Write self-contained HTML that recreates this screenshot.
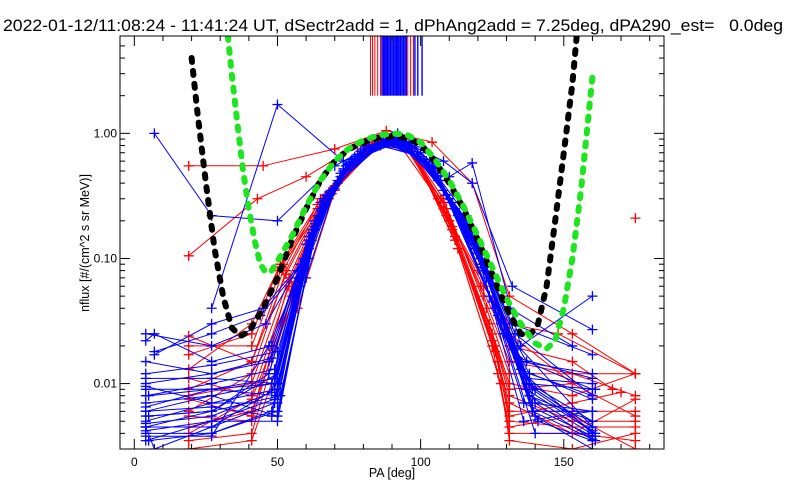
<!DOCTYPE html>
<html><head><meta charset="utf-8"><style>
html,body{margin:0;padding:0;background:#fff;width:800px;height:500px;overflow:hidden}
svg{display:block;font-family:"Liberation Sans","DejaVu Sans",sans-serif}
</style></head><body>
<svg id="chart" width="800" height="500" viewBox="0 0 800 500">
<text x="3" y="31" font-size="16.5" fill="#000" textLength="780" lengthAdjust="spacingAndGlyphs" xml:space="preserve" style="white-space:pre">2022-01-12/11:08:24 - 11:41:24 UT, dSectr2add = 1, dPhAng2add = 7.25deg, dPA290_est=   0.0deg</text>
<g id="plot"></g>
<g id="axes"></g>
<text x="392" y="477" font-size="12.5" text-anchor="middle">PA [deg]</text>
<text transform="translate(89,243) rotate(-90)" font-size="12.5" text-anchor="middle">nflux [#/(cm^2 s sr MeV)]</text>
</svg>
<script>
const xTicks=[0,50,100,150];
const yTicks=[0.01,0.1,1];
const yTickLabels=["0.01","0.10","1.00"];
const blueLines=[
[[4,0.0045],[27,0.0045],[49,0.009],[62,0.15],[74,0.55],[88,0.85],[102,0.6],[118,0.15],[136,0.012],[160,0.004]],
[[4,0.009],[27,0.009],[50,0.008],[63,0.17],[75,0.55],[90,0.9],[104,0.55],[120,0.12],[138,0.01],[160,0.005]],
[[4,0.006],[27,0.0065],[48,0.0055],[61,0.12],[73,0.5],[89,0.88],[103,0.55],[119,0.13],[137,0.009],[161,0.004]],
[[4,0.011],[27,0.011],[50,0.01],[64,0.2],[76,0.6],[91,0.9],[105,0.5],[121,0.1],[139,0.006],[160,0.006]],
[[4,0.0038],[27,0.0038],[47,0.02],[60,0.1],[72,0.45],[87,0.85],[101,0.62],[117,0.18],[134,0.02],[160,0.0045]],
[[4,0.025],[27,0.02],[46,0.03],[59,0.1],[71,0.4],[86,0.8],[100,0.65],[116,0.2],[133,0.025],[160,0.008]],
[[5,0.0055],[27,0.006],[50,0.012],[64,0.22],[77,0.65],[92,0.92],[106,0.45],[122,0.08],[140,0.007],[161,0.0035]],
[[7,0.017],[27,0.03],[45,0.04],[58,0.09],[70,0.38],[85,0.8],[99,0.68],[115,0.22],[132,0.03],[160,0.017]],
[[4,0.022],[7,0.025],[27,0.015],[48,0.02],[61,0.14],[73,0.5],[88,0.9],[102,0.58],[118,0.15],[135,0.015],[160,0.012]],
[[7,1.0],[27,0.22],[50,0.2],[70,0.55],[90,0.95],[108,0.6],[118,0.4],[132,0.06],[160,0.027]],
[[27,0.04],[50,1.7],[73,0.6],[92,1.0],[110,0.45],[118,0.58],[135,0.02],[160,0.05]],
[[4,0.0042],[27,0.005],[49,0.0075],[62,0.16],[74,0.55],[90,0.88],[104,0.52],[120,0.11],[138,0.008],[161,0.0038]],
[[5,0.0035],[27,0.004],[48,0.006],[63,0.18],[76,0.6],[92,0.85],[106,0.42],[121,0.09],[136,0.005],[160,0.006]],
[[4,0.01],[27,0.012],[47,0.015],[61,0.15],[73,0.52],[89,0.9],[103,0.56],[119,0.14],[137,0.01],[161,0.009]],
[[4,0.0048],[27,0.0055],[48,0.0085],[63,0.2],[75,0.58],[91,0.92],[105,0.5],[120,0.12],[139,0.009],[160,0.0042]],
[[5,0.008],[27,0.009],[49,0.011],[62,0.17],[74,0.55],[89,0.87],[103,0.55],[118,0.14],[134,0.016],[160,0.011]],
[[4,0.006],[27,0.008],[50,0.0055],[64,0.2],[76,0.6],[91,0.9],[104,0.5],[119,0.12],[136,0.007],[160,0.0038]],
[[7,0.018],[27,0.025],[44,0.035],[57,0.08],[69,0.35],[85,0.82],[100,0.7],[116,0.22],[131,0.04],[153,0.02]],
[[4,0.0095],[27,0.007],[50,0.009],[65,0.25],[78,0.68],[93,0.9],[107,0.42],[123,0.07],[140,0.0055],[160,0.003]],
[[4,0.0055],[27,0.006],[47,0.012],[60,0.13],[72,0.48],[88,0.88],[102,0.6],[118,0.16],[135,0.013],[160,0.0075]],
[[4,0.0045],[7,0.003],[27,0.0045],[49,0.007],[62,0.14],[75,0.57],[90,0.9],[104,0.53],[120,0.13],[137,0.01],[160,0.0045]],
[[4,0.015],[27,0.012],[48,0.016],[62,0.16],[75,0.56],[90,0.86],[104,0.54],[119,0.13],[137,0.011],[160,0.01]],
[[4,0.0065],[27,0.009],[49,0.01],[63,0.19],[76,0.62],[92,0.88],[105,0.48],[121,0.1],[138,0.008],[160,0.005]],
[[4,0.004],[27,0.004],[50,0.006],[65,0.24],[77,0.63],[92,0.9],[106,0.46],[122,0.085],[139,0.006],[160,0.0036]],
[[4,0.005],[27,0.007],[50,0.007],[58,0.06],[66,0.3],[80,0.75],[95,0.85],[110,0.3],[126,0.04],[140,0.004],[160,0.004]],
[[4,0.008],[27,0.01],[49,0.013],[57,0.07],[67,0.32],[81,0.78],[94,0.86],[109,0.32],[125,0.045],[139,0.007],[160,0.006]],
[[4,0.012],[27,0.014],[50,0.018],[59,0.09],[68,0.34],[82,0.8],[96,0.84],[111,0.28],[127,0.035],[138,0.012],[160,0.008]],
[[4,0.0045],[27,0.006],[51,0.008],[60,0.07],[70,0.36],[84,0.82],[97,0.8],[112,0.25],[128,0.03],[141,0.005],[160,0.0035]],
[[4,0.007],[27,0.008],[48,0.01],[56,0.05],[65,0.28],[79,0.72],[93,0.88],[108,0.35],[124,0.05],[137,0.015],[160,0.009]],
[[4,0.0035],[27,0.005],[50,0.005],[61,0.1],[71,0.42],[86,0.84],[98,0.78],[113,0.22],[129,0.025],[140,0.009],[160,0.0045]]
];
const redLines=[
[[19,0.0035],[41,0.004],[55,0.05],[68,0.3],[84,0.85],[95,0.8],[110,0.2],[125,0.02],[131,0.004],[153,0.004],[175,0.0035]],
[[19,0.011],[41,0.008],[54,0.06],[67,0.3],[83,0.8],[96,0.75],[111,0.18],[126,0.02],[131,0.006],[153,0.006],[175,0.006]],
[[19,0.006],[41,0.012],[53,0.08],[66,0.3],[82,0.85],[95,0.85],[109,0.25],[124,0.03],[131,0.01],[153,0.008],[175,0.012]],
[[19,0.0045],[41,0.006],[56,0.05],[69,0.35],[85,0.9],[96,0.8],[112,0.15],[127,0.015],[131,0.005],[153,0.0045],[175,0.0045]],
[[19,0.02],[41,0.02],[52,0.09],[65,0.25],[80,0.7],[94,0.85],[108,0.28],[122,0.05],[131,0.015],[153,0.012],[175,0.008]],
[[19,0.55],[45,0.55],[70,0.75],[88,1.05],[104,0.85],[118,0.4],[131,0.05],[153,0.025],[175,0.012]],
[[19,0.105],[43,0.3],[60,0.45],[78,0.8],[92,0.85],[106,0.3],[120,0.08],[131,0.025],[153,0.01]],
[[19,0.003],[41,0.0035],[57,0.04],[70,0.35],[86,0.85],[97,0.75],[113,0.12],[128,0.01],[131,0.0035],[153,0.003],[175,0.004]],
[[19,0.008],[41,0.01],[54,0.07],[67,0.32],[83,0.82],[95,0.82],[110,0.2],[125,0.025],[131,0.008],[153,0.005],[175,0.005]],
[[19,0.013],[41,0.03],[50,0.08],[64,0.25],[80,0.75],[94,0.9],[108,0.3],[123,0.04],[131,0.012],[153,0.012],[175,0.012]],
[[19,0.0055],[41,0.005],[55,0.06],[68,0.32],[84,0.88],[96,0.78],[111,0.17],[126,0.018],[131,0.0055],[153,0.007],[170,0.0085]],
[[19,0.009],[41,0.015],[53,0.075],[66,0.28],[81,0.78],[94,0.85],[109,0.22],[124,0.03],[131,0.009],[153,0.01],[175,0.0055]],
[[19,0.004],[41,0.0075],[56,0.055],[69,0.33],[85,0.9],[97,0.72],[112,0.14],[127,0.012],[131,0.0045],[153,0.0055],[175,0.003]],
[[19,0.017],[41,0.025],[51,0.09],[64,0.27],[79,0.72],[93,0.87],[107,0.3],[121,0.06],[131,0.02],[153,0.015],[167,0.009]],
[[19,0.0075],[41,0.0055],[54,0.065],[67,0.3],[82,0.82],[95,0.83],[110,0.2],[125,0.022],[131,0.007],[153,0.004],[175,0.0075]],
[[19,0.024],[41,0.015],[52,0.08],[65,0.3],[81,0.8],[96,0.8],[108,0.25],[122,0.06],[131,0.03],[148,0.025],[175,0.012]]
];
const redPoints=[[175,0.21]];
const vertRedPA=[82.5,83.2,84,85,86,87.2,95.5,96.5,97.5];
const vertBluePA=[86.5,87,87.5,88,88.5,89,89.5,90,90.5,91,91.5,92,92.5,93,93.5,94,94.5,95,98,99,100.5];
const vertBottom=2.0;
const blackCurve=[[20,4.0],[22,1.5],[25,0.4],[28,0.12],[31,0.05],[34,0.028],[37,0.024],[40,0.026],[45,0.04],[50,0.07],[55,0.14],[60,0.25],[65,0.42],[70,0.6],[75,0.75],[80,0.85],[85,0.92],[90,0.95],[95,0.92],[100,0.82],[105,0.6],[110,0.4],[115,0.25],[120,0.14],[125,0.075],[130,0.04],[135,0.025],[138,0.024],[141,0.03],[144,0.06],[147,0.2],[150,0.7],[153,2.5],[154.5,6]];
const greenCurve=[[32.7,6],[34,3],[36,1.2],[38,0.5],[40,0.25],[42,0.14],[44,0.09],[46,0.077],[48,0.08],[50,0.095],[55,0.15],[60,0.26],[65,0.42],[70,0.6],[75,0.76],[80,0.88],[85,0.96],[90,1.0],[95,0.98],[100,0.85],[105,0.62],[110,0.42],[115,0.26],[120,0.15],[125,0.085],[130,0.048],[135,0.03],[140,0.021],[144,0.019],[147,0.022],[150,0.04],[153,0.1],[156,0.35],[158,1.0],[160,2.8]];

const X0=120,X1=664,Y0=36,Y1=449,XMIN=-5,XMAX=185,YMIN=0.003,YMAX=6;
const NS='http://www.w3.org/2000/svg';
function xs(v){return X0+(v-XMIN)*(X1-X0)/(XMAX-XMIN);}
function ys(v){return Y0+(Math.log10(YMAX)-Math.log10(v))*(Y1-Y0)/(Math.log10(YMAX)-Math.log10(YMIN));}
function mk(tag,attrs,parent){const e=document.createElementNS(NS,tag);for(const k in attrs)e.setAttribute(k,attrs[k]);parent.appendChild(e);return e;}
const plot=document.getElementById('plot'),axes=document.getElementById('axes');
const clip=mk('clipPath',{id:'cp'},document.getElementById('chart'));
mk('rect',{x:X0,y:Y0,width:X1-X0,height:Y1-Y0},clip);
plot.setAttribute('clip-path','url(#cp)');

function drawSeries(lines,color,name){
  lines.forEach((ln)=>{
    const pts=ln.map(p=>xs(p[0]).toFixed(1)+','+ys(p[1]).toFixed(1)).join(' ');
    const pl=mk('polyline',{points:pts,fill:'none',stroke:color,'stroke-width':1},plot);
    
    
    ln.forEach(p=>{
      const x=xs(p[0]),y=ys(p[1]);
      const m=mk('path',{d:`M${x-5},${y}H${x+5}M${x},${y-5}V${y+5}`,stroke:color,'stroke-width':1.3},plot);
      
      
    });
  });
}
vertRedPA.forEach(pa=>{
  const l=mk('line',{x1:xs(pa),x2:xs(pa),y1:Y0,y2:ys(vertBottom),stroke:'#f00','stroke-width':1},plot);
  
  
});
vertBluePA.forEach(pa=>{
  const l=mk('line',{x1:xs(pa),x2:xs(pa),y1:Y0,y2:ys(vertBottom),stroke:'#00f','stroke-width':1.4},plot);
  
  
});
drawSeries(redLines,'#f00','red-series');
drawSeries(blueLines,'#00f','blue-series');
redPoints.forEach(p=>{
  const x=xs(p[0]),y=ys(p[1]);
  const m=mk('path',{d:`M${x-5},${y}H${x+5}M${x},${y-5}V${y+5}`,stroke:'#f00','stroke-width':1.3},plot);
  
  
});
function curve(c,color,name){
  const pts=c.map(p=>xs(p[0]).toFixed(1)+','+ys(p[1]).toFixed(1)).join(' ');
  const pl=mk('polyline',{points:pts,fill:'none',stroke:color,'stroke-width':6,'stroke-dasharray':'4 9','stroke-linecap':'round'},plot);
  
  
}
curve(blackCurve,'#000','black-model-curve');
curve(greenCurve,'#1ee61e','green-model-curve');

const fr=mk('rect',{x:X0,y:Y0,width:X1-X0,height:Y1-Y0,fill:'none',stroke:'#000','stroke-width':1},axes);


for(let v=0;v<=180;v+=10){
  const maj=xTicks.includes(v),L=maj?10:5,x=xs(v);
  mk('line',{x1:x,x2:x,y1:Y1,y2:Y1-L,stroke:'#000'},axes);
  mk('line',{x1:x,x2:x,y1:Y0,y2:Y0+L,stroke:'#000'},axes);
}
xTicks.forEach(v=>{
  const t=mk('text',{x:xs(v),y:Y1+17,'font-size':12,'text-anchor':'middle'},axes);
  t.textContent=String(v);
  
  
});
for(let d=-3;d<=0;d++){
  for(let m=1;m<=9;m++){
    const v=m*Math.pow(10,d);
    if(v<YMIN||v>YMAX)continue;
    const y=ys(v),L=m===1?10:5;
    mk('line',{x1:X0,x2:X0+L,y1:y,y2:y,stroke:'#000'},axes);
    mk('line',{x1:X1,x2:X1-L,y1:y,y2:y,stroke:'#000'},axes);
  }
}
yTicks.forEach((v,i)=>{
  const t=mk('text',{x:X0-3,y:ys(v)+4,'font-size':12,'text-anchor':'end'},axes);
  t.textContent=yTickLabels[i];
  
  
});
</script>
</body></html>
